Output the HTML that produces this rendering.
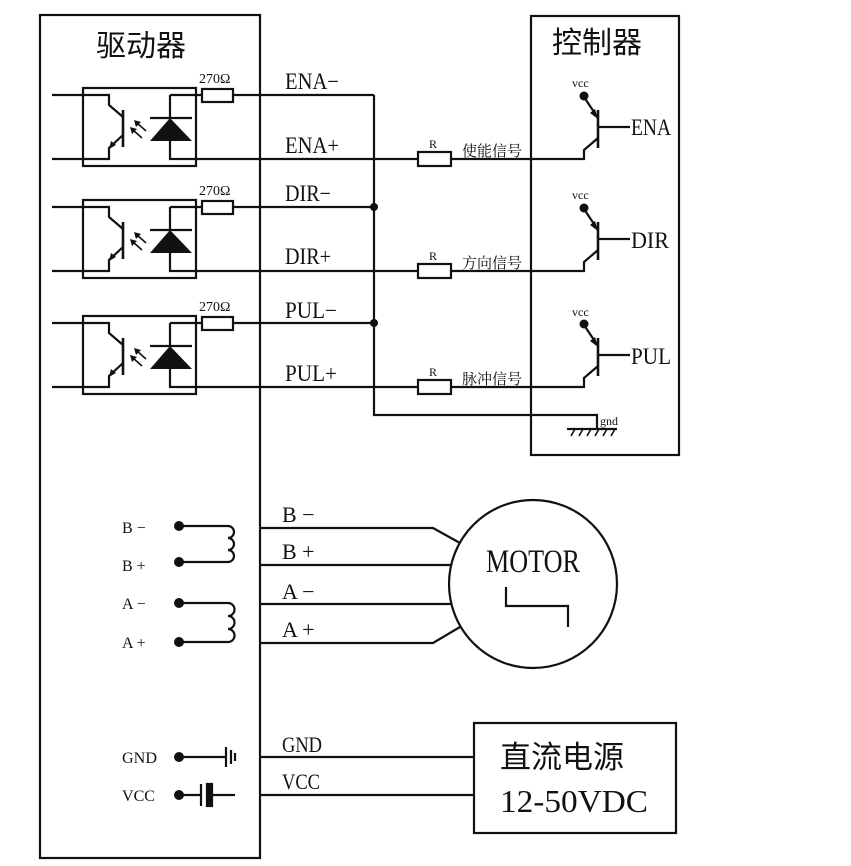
<!DOCTYPE html>
<html><head><meta charset="utf-8"><style>
html,body{margin:0;padding:0;background:#fff;}
svg{display:block;}
text{font-family:"Liberation Serif","Noto Serif CJK SC",serif;fill:#111;}
.cjk{font-family:"Liberation Sans","Noto Sans CJK SC",sans-serif;}
</style></head><body>
<svg width="851" height="866" viewBox="0 0 851 866" xmlns="http://www.w3.org/2000/svg">
<defs>
<g id="opto" stroke="#111" stroke-width="2.2" fill="none">
  <path d="M52 95 H109 V105 L123 117"/>
  <path d="M123 110 V147" stroke-width="2.6"/>
  <path d="M123 135 L109 148 V159 H52"/>
  <polygon points="109,149 111,141 116,145" fill="#111" stroke="none"/>
  <rect x="83" y="88" width="113" height="78"/>
  <path d="M170 95 V118 M150 118 H192 M170 141 V159 H196"/>
  <polygon points="150,141 192,141 170,118" fill="#111" stroke="none"/>
  <path d="M146 131 L137 123 M142 138 L133 130" stroke-width="1.6"/>
  <polygon points="134,120 141,122 136,127" fill="#111" stroke="none"/>
  <polygon points="130,127 137,129 132,134" fill="#111" stroke="none"/>
  <path d="M170 95 H202 M233 95 H374"/>
  <rect x="202" y="89" width="31" height="13"/>
  <path d="M196 159 H418 M451 159 H584 V150 L598 138"/>
  <rect x="418" y="152" width="33" height="14"/>
  <path d="M598 110 V148" stroke-width="2.6"/>
  <path d="M598 127 H630"/>
  <path d="M584 97 L598 118"/>
  <polygon points="598,119 590,113 595,109" fill="#111" stroke="none"/>
  <circle cx="584" cy="96" r="4.5" fill="#111" stroke="none"/>
</g>
</defs>

<use href="#opto"/>
<use href="#opto" transform="translate(0,112)"/>
<use href="#opto" transform="translate(0,228)"/>

<g font-size="14">
<text x="199" y="83">270Ω</text>
<text x="199" y="195">270Ω</text>
<text x="199" y="311">270Ω</text>
</g>
<g font-size="12">
<text x="429" y="148">R</text>
<text x="429" y="260">R</text>
<text x="429" y="376">R</text>
<text x="572" y="87">vcc</text>
<text x="572" y="199">vcc</text>
<text x="572" y="316">vcc</text>
<text x="600" y="425">gnd</text>
</g>
<g font-size="15" class="cjk">
<text x="462" y="156">使能信号</text>
<text x="462" y="268">方向信号</text>
<text x="462" y="384">脉冲信号</text>
</g>
<g font-size="23">
<text x="285" y="89" textLength="54" lengthAdjust="spacingAndGlyphs">ENA−</text>
<text x="285" y="153" textLength="54" lengthAdjust="spacingAndGlyphs">ENA+</text>
<text x="285" y="201" textLength="46" lengthAdjust="spacingAndGlyphs">DIR−</text>
<text x="285" y="264" textLength="46" lengthAdjust="spacingAndGlyphs">DIR+</text>
<text x="285" y="318" textLength="52" lengthAdjust="spacingAndGlyphs">PUL−</text>
<text x="285" y="381" textLength="52" lengthAdjust="spacingAndGlyphs">PUL+</text>
<text x="631" y="135" textLength="40" lengthAdjust="spacingAndGlyphs">ENA</text>
<text x="631" y="248" textLength="38" lengthAdjust="spacingAndGlyphs">DIR</text>
<text x="631" y="364" textLength="40" lengthAdjust="spacingAndGlyphs">PUL</text>
</g>

<g stroke="#111" stroke-width="2.2" fill="none">
  <rect x="40" y="15" width="220" height="843"/>
  <rect x="531" y="16" width="148" height="439"/>
  <path d="M374 95 V415 H597 V428"/>
  <path d="M567 429 H617"/>
  <path d="M571 436 L575 429 M579 436 L583 429 M587 436 L591 429 M595 436 L599 429 M603 436 L607 429 M611 436 L615 429" stroke-width="1.6"/>
  <circle cx="533" cy="584" r="84"/>
  <path d="M260 528 H433 L460 543 M260 565 H452 M260 604 H451 M260 643 H433 L460 627"/>
  <path d="M506 587 V606 H568 V627"/>
  <path d="M179 526 H228 a6 6 0 0 1 0 12 a6 6 0 0 1 0 12 a6 6 0 0 1 0 12 H179"/>
  <path d="M179 603 H228 a6 6 0 0 1 0 13 a6 6 0 0 1 0 13 a6 6 0 0 1 0 13 H179"/>
  <path d="M179 757 H226 M226 747 V767 M231 750 V764 M235 753 V761"/>
  <path d="M179 795 H201 M201 784 V806 M212 795 H235"/>
  <rect x="207" y="784" width="5" height="22" fill="#111"/>
  <path d="M260 757 H474 M260 795 H474"/>
  <rect x="474" y="723" width="202" height="110"/>
</g>
<g fill="#111">
  <circle cx="374" cy="207" r="4"/>
  <circle cx="374" cy="323" r="4"/>
  <circle cx="179" cy="526" r="5"/>
  <circle cx="179" cy="562" r="5"/>
  <circle cx="179" cy="603" r="5"/>
  <circle cx="179" cy="642" r="5"/>
  <circle cx="179" cy="757" r="5"/>
  <circle cx="179" cy="795" r="5"/>
</g>
<g font-size="16">
<text x="122" y="533">B −</text>
<text x="122" y="571">B +</text>
<text x="122" y="609">A −</text>
<text x="122" y="648">A +</text>
<text x="122" y="763" textLength="35" lengthAdjust="spacingAndGlyphs">GND</text>
<text x="122" y="801" textLength="33" lengthAdjust="spacingAndGlyphs">VCC</text>
</g>
<g font-size="22">
<text x="282" y="522">B  −</text>
<text x="282" y="559">B  +</text>
<text x="282" y="599">A  −</text>
<text x="282" y="637">A  +</text>
<text x="282" y="752" textLength="40" lengthAdjust="spacingAndGlyphs">GND</text>
<text x="282" y="789" textLength="38" lengthAdjust="spacingAndGlyphs">VCC</text>
</g>
<text x="486" y="572" font-size="33" textLength="94" lengthAdjust="spacingAndGlyphs">MOTOR</text>
<text x="96" y="56" font-size="30" class="cjk">驱动器</text>
<text x="552" y="53" font-size="30" class="cjk">控制器</text>
<text x="500" y="768" font-size="31" class="cjk">直流电源</text>
<text x="500" y="812" font-size="32" textLength="148" lengthAdjust="spacingAndGlyphs">12-50VDC</text>
</svg>
</body></html>
